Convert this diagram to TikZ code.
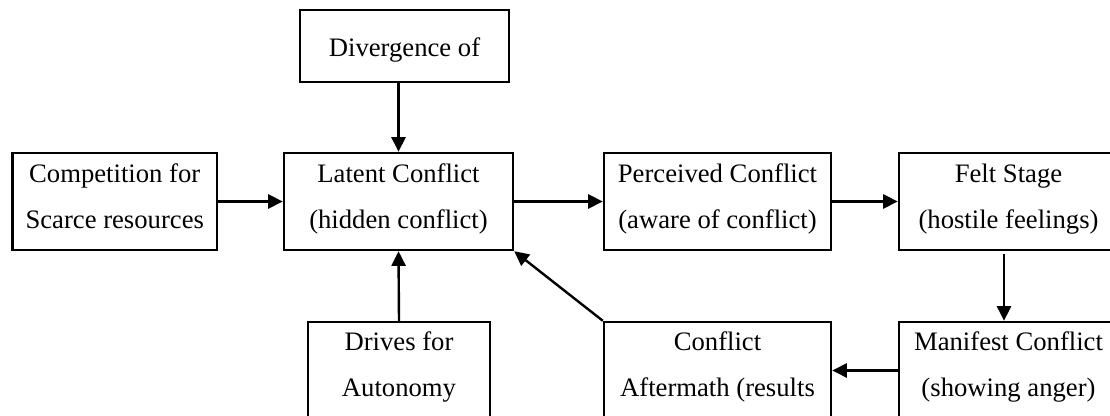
\documentclass[tikz,border=0pt]{standalone}
\usepackage{fontspec}
\setmainfont{Liberation Serif}
\usetikzlibrary{arrows.meta}
\begin{document}
\begin{tikzpicture}[x=0.75pt,y=-0.75pt,
  box/.style={draw,line width=1.8pt,inner sep=0pt},
  txt/.style={font=\fontsize{20}{24}\selectfont,anchor=base,inner sep=0pt},
  flow/.style={line width=1.8pt,-{Triangle[length=11pt,width=10.5pt]}}]
\useasboundingbox (0,0) rectangle (1110,416);
\clip (0,0) rectangle (1110,416);

% boxes
\node[box,minimum width=209*0.75pt,minimum height=72*0.75pt]   (div)  at (404.5,46)   {};
\node[box,minimum width=204.5*0.75pt,minimum height=97*0.75pt] (comp) at (114.75,201.5) {};
\node[box,minimum width=229*0.75pt,minimum height=97*0.75pt]   (lat)  at (398.5,201.5) {};
\node[box,minimum width=227*0.75pt,minimum height=97*0.75pt]   (perc) at (717.5,201.5) {};
\node[box,minimum width=219*0.75pt,minimum height=97*0.75pt]   (felt) at (1008.5,201.5) {};
\node[box,minimum width=182*0.75pt,minimum height=97*0.75pt]   (drv)  at (399,370.5) {};
\node[box,minimum width=227*0.75pt,minimum height=97*0.75pt]   (aft)  at (717.5,370.5) {};
\node[box,minimum width=219*0.75pt,minimum height=97*0.75pt]   (man)  at (1008.5,370.5) {};

% labels
\node[txt] (div1)  at (404.5,57)   {Divergence of};
\node[txt] (comp1) at (114.75,183) {Competition for};
\node[txt] (comp2) at (114.75,229) {Scarce resources};
\node[txt] (lat1)  at (398.5,183)  {Latent Conflict};
\node[txt] (lat2)  at (398.5,229)  {(hidden conflict)};
\node[txt] (perc1) at (717.5,183)  {Perceived Conflict};
\node[txt] (perc2) at (717.5,229)  {(aware of conflict)};
\node[txt] (felt1) at (1008.5,183) {Felt Stage};
\node[txt] (felt2) at (1008.5,229) {(hostile feelings)};
\node[txt] (drv1)  at (399,351)    {Drives for};
\node[txt] (drv2)  at (399,397)    {Autonomy};
\node[txt] (aft1)  at (717.5,351)  {Conflict};
\node[txt] (aft2)  at (717.5,397)  {Aftermath (results};
\node[txt] (man1)  at (1008.5,351) {Manifest Conflict};
\node[txt] (man2)  at (1008.5,397) {(showing anger)};

% connectors
\draw[flow] (lat.north |- div.south) -- (lat.north);
\draw[flow] (comp.east) -- (lat.west);
\draw[flow] (lat.east) -- (perc.west);
\draw[flow] (perc.east) -- (felt.west);
\draw[flow] ([shift={(-4.5,3)}]felt.south) -- ([xshift=-4.5*0.75pt]man.north);
\draw[flow] (man.west) -- (aft.east);
\draw[flow] (aft.north west) -- (lat.south east);
\draw[flow] (drv.north) -- (lat.south);
\end{tikzpicture}
\end{document}
